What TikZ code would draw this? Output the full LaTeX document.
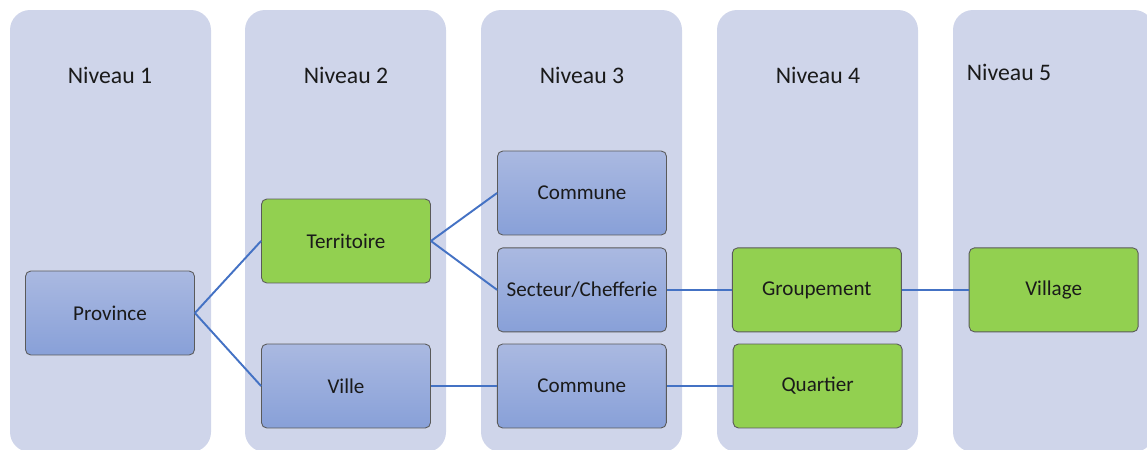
\documentclass[tikz,border=0pt]{standalone}
\usepackage{fontspec}
\setmainfont{Carlito}
\usetikzlibrary{positioning}
\definecolor{lanefill}{HTML}{CFD5EA}
\definecolor{linkblue}{HTML}{4472C4}
\definecolor{leafgreen}{HTML}{92D050}
\definecolor{bluetop}{HTML}{AAB9E1}
\definecolor{bluebot}{HTML}{88A0D8}
\definecolor{boxedge}{HTML}{5A5A5A}
\definecolor{ink}{HTML}{1A1A1A}

\begin{document}
\begin{tikzpicture}[x=0.02cm,y=-0.02cm,
    box/.style={draw=boxedge,line width=0.5pt,rounded corners=3pt,minimum width=3.38cm,minimum height=1.68cm,font=\fontsize{12}{14}\selectfont,text=ink},
    bluebox/.style={box,top color=bluetop,bottom color=bluebot},
    greenbox/.style={box,fill=leafgreen},
    link/.style={draw=linkblue,line width=1.1pt}]
\useasboundingbox (0,0) rectangle (1147,450);
\clip (0,0) rectangle (1147,450);

% lanes
\foreach \x [count=\n] in {10,245,481,717,953}
    \fill[lanefill,rounded corners=0.4cm] (\x,10) rectangle ++(201,442);

% headers
\foreach \x/\y [count=\n] in {110/75,346/75,582/75,818/75,1009/72}
    \node[font=\fontsize{13.5}{16}\selectfont,text=ink] (H\n) at (\x,\y) {Niveau \n};

\node[bluebox] (province) at (110,313) {Province};
\node[greenbox] (territoire) at (346,241) {Territoire};
\node[bluebox] (ville) at (346,386) {Ville};
\node[bluebox] (communeA) at (582,193) {Commune};
\node[bluebox,below=0.24cm of communeA] (secteur) {Secteur/Chefferie};
\node[bluebox,right=1.32cm of ville] (communeB) {Commune};
\node[greenbox,right=1.30cm of secteur] (groupement) {Groupement};
\node[greenbox,right=1.32cm of communeB] (quartier) {Quartier};
\node[greenbox,right=1.34cm of groupement] (village) {Village};

\draw[link] (province.east) -- (territoire.west);
\draw[link] (province.east) -- (ville.west);
\draw[link] (territoire.east) -- (communeA.west);
\draw[link] (territoire.east) -- (secteur.west);
\draw[link] (ville) -- (communeB);
\draw[link] (secteur) -- (groupement);
\draw[link] (communeB) -- (quartier);
\draw[link] (groupement) -- (village);
\end{tikzpicture}
\end{document}
